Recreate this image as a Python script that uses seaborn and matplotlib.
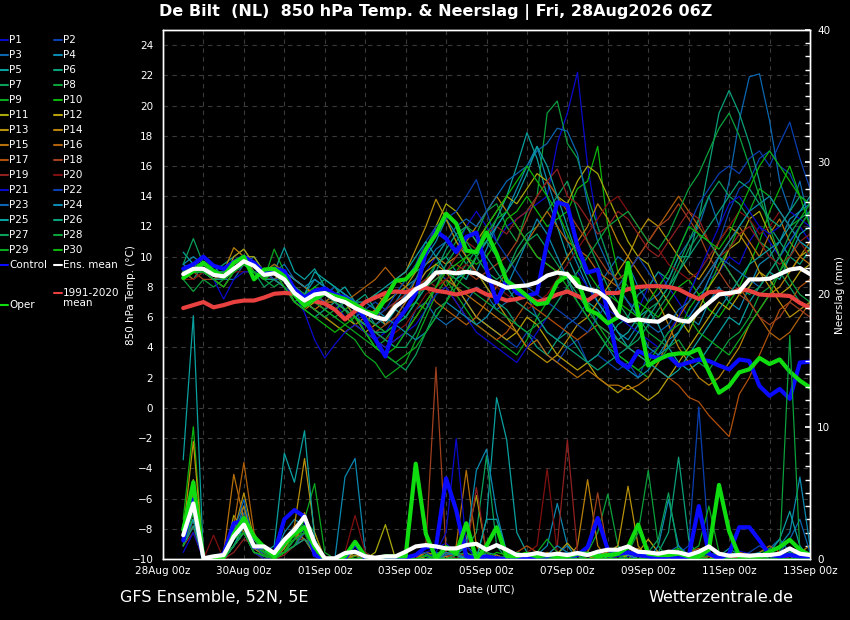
"""
GFS ensemble plume for De Bilt: 850 hPa temperature and precipitation
"""

import pandas as pd
import matplotlib
matplotlib.use("Agg")
import matplotlib.pyplot as plt
import matplotlib.dates as mdates
from matplotlib.lines import Line2D
from matplotlib.ticker import MultipleLocator
import seaborn as sns

# ---- data (6-hourly, 28Aug 12z .. 13Sep 00z) ----
start_time = "2026-08-28 12:00"
n_steps = 63

member_names = [f"P{k}" for k in range(1, 31)]

base_colors = ["#0a0acc", "#0a3fb0", "#0a66b0", "#0a88b0", "#0aa0a0",
               "#0aa07a", "#0aa05a", "#0aa03c", "#0aa81e", "#0ab40a",
               "#a8a80a", "#b8a00a", "#b8900a", "#b8800a", "#b8700a",
               "#b0600a", "#b0500a", "#a0401e", "#902020", "#801010"]
member_colors = base_colors + base_colors[:10]

member_t850 = [
    # P1
    [9, 9.5, 9, 8.5, 8, 9, 9.5, 9, 8.5, 9, 8,
     7, 7.5, 7, 6.5, 7, 6, 6.5, 5, 4.5, 5,
     6, 7, 8, 9, 10, 11, 10.5, 12, 13, 12,
     11, 12, 12.5, 13, 13.5, 14, 17.5, 19.5, 22.2, 16, 12, 10,
     8, 7, 6.5, 8, 9, 8, 7, 6, 7, 8.5,
     9, 10, 9.5, 11, 12, 11, 10, 11, 12, 11],
    # P2
    [8.5, 9, 9.5, 9, 8.5, 9.5, 10, 9.5, 9, 8.5, 8,
     7.5, 7, 7.5, 8, 7, 7.5, 7, 6.5, 7, 6.5,
     7, 6.5, 7.5, 8, 9, 8.5, 8, 7, 6, 5.5,
     5, 4.5, 4, 5, 4.5, 3.5, 3, 4, 4.5, 3, 3.5, 3,
     2.5, 3, 2, 3.5, 4, 5, 6, 7.5, 9, 10,
     11, 13, 14.5, 15, 16.5, 17, 16, 15.5, 14, 13.5],
    # P3
    [9, 8.5, 9, 9.5, 8.5, 8.5, 9.5, 10, 9, 9, 9.5,
     8.5, 8, 7.5, 7, 7.5, 6.5, 6, 5.5, 5, 4.5,
     4, 5, 6.5, 7, 6, 5.5, 6, 7, 8, 7.5,
     6.5, 7, 8, 7.5, 6, 5, 4.5, 5.5, 6, 7, 8, 9,
     10, 9.5, 8, 7, 7.5, 8.5, 10, 11, 12, 14,
     12, 15, 19, 21.9, 22.1, 19, 15, 13, 15, 12],
    # P4
    [9.5, 10, 9.5, 9, 9, 9.5, 10, 9.5, 9, 8.5, 9,
     8, 7.5, 8.5, 8, 7.5, 7, 6, 6.5, 5.5, 6,
     7, 8, 8.5, 10, 11, 12.5, 11.5, 10, 9, 10.5,
     12, 13, 14.5, 16, 17.3, 15, 13, 11, 9.5, 8, 7, 6,
     5, 4.5, 5.5, 4, 3.5, 4.5, 5, 6, 5.5, 7,
     8, 7, 6.5, 8, 9.5, 10, 11, 12.5, 13, 13.5],
    # P5
    [10.3, 9.5, 9, 8.5, 9, 9.5, 10, 9, 8.5, 9, 10.6,
     9, 8.5, 9.2, 8, 7.5, 8, 7, 6.5, 6, 5.5,
     6.5, 6, 7, 8, 9.5, 10, 9, 8.5, 10, 11,
     12.5, 14, 16, 18.2, 16.5, 14, 12, 10, 8.5, 7, 6.5, 5.5,
     4.5, 5, 6, 6.5, 5.5, 4, 3, 2.5, 3, 4,
     5, 6, 5.5, 7, 8, 9, 8.5, 10, 11.5, 12],
    # P6
    [9, 8.5, 9.5, 9, 9.5, 10, 10.5, 9.5, 9, 9.5, 9,
     8, 7.5, 7, 7.5, 8, 7.5, 7, 7.5, 6.5, 7,
     7.5, 8.5, 9, 9.5, 10, 11, 10.5, 9.5, 9, 8,
     7, 6.5, 5.5, 5, 4, 3.5, 4.5, 5, 4, 3, 3.5, 4.5,
     5.5, 6, 7.5, 8, 9, 8.5, 10, 10, 12.5, 16,
     19.5, 21, 19.5, 17.5, 15, 12, 11, 10, 9.5, 10.5],
    # P7
    [9.5, 11.2, 9.5, 9, 9, 9, 9.5, 9, 8, 8.5, 8.5,
     7.5, 7, 8, 8.5, 8, 7, 6, 5, 4, 3.5,
     3, 2.5, 3.5, 5, 6.5, 7, 8.5, 9.5, 10.5, 11,
     10, 9, 10.5, 11.5, 12, 13, 14, 15, 13, 11, 9.5, 8,
     7, 6, 5.5, 6.5, 7, 8, 9.5, 11, 12.5, 14,
     15, 14, 13.5, 12.5, 11, 10.5, 9, 8, 7, 6.5],
    # P8
    [8.5, 7.7, 8.5, 8, 8.5, 9, 9.5, 9.5, 8.5, 8, 8.5,
     7, 7.5, 7, 6.5, 6, 6.5, 5.5, 5, 4, 4.5,
     5.5, 6, 7, 8.5, 9.5, 10, 11, 12, 11.5, 13,
     13.5, 12, 11, 13, 14, 19.5, 20.3, 17.5, 16.5, 14, 12, 10,
     8, 7, 6, 5, 4.5, 4, 4.5, 3.5, 3, 2.5,
     3.5, 4.5, 5, 6, 7.5, 8, 9, 10, 11, 10.5],
    # P9
    [8.5, 9, 9, 8.5, 8, 9, 9.5, 9, 8.5, 10.5, 9,
     8, 7, 6.5, 6, 5.5, 5, 4.5, 3.5, 3, 2,
     2.5, 3, 4.5, 6, 7.5, 8.5, 7.5, 6.5, 5.5, 5,
     4.5, 4, 3.5, 4.5, 6, 7, 8.5, 9, 8, 7, 5.5, 4.5,
     3.5, 3, 2.5, 2, 3, 4, 5, 6.5, 7.5, 8,
     9.5, 10.5, 12, 13, 14.5, 14, 13, 12, 12.5, 13.5],
    # P10
    [9, 9.5, 9, 9, 8.5, 9.5, 10, 9.5, 9, 9, 8.5,
     8, 7.5, 8, 7.5, 7, 6.5, 7, 6, 5.5, 5,
     5.5, 6.5, 7, 6.5, 7.5, 8, 9, 10, 9.5, 10,
     11, 12.5, 13, 14, 13, 12, 12.5, 13, 14.5, 15, 17.3, 12,
     9, 8, 7, 6.5, 6, 7, 8, 8.5, 7.5, 6.5,
     6, 7, 8, 9.5, 11, 13, 14.5, 16, 14, 12],
    # P11
    [9, 9.5, 9.5, 9, 9, 9.5, 10, 10, 9, 9, 8.5,
     8, 7.5, 7, 7, 6.5, 6, 6.5, 7, 7.5, 7,
     7.5, 8, 9, 10.5, 12, 13.5, 13, 12, 11, 12,
     13, 14, 13.5, 14.5, 15.5, 15, 14, 13.5, 15, 16, 15.5, 14,
     12.5, 11, 10, 9.5, 8, 7, 6, 5, 6.5, 8,
     9, 10.5, 11, 12.5, 13, 11.5, 10, 9, 10, 10.5],
    # P12
    [8.5, 9, 9, 8.5, 8.5, 9, 9.5, 9, 8.5, 8.5, 8,
     7, 6.5, 7, 7, 6.5, 6, 5.5, 5, 5.5, 6,
     6.5, 7.5, 8, 9, 9.5, 9, 8, 7, 6, 5.5,
     5, 4.5, 5, 6, 5.5, 4.5, 3.5, 3, 2.5, 3, 2, 1.5,
     1, 1.5, 1, 0.5, 1, 2, 3, 4, 5, 6,
     7, 6.5, 7.5, 8, 9, 8.5, 7.5, 8, 9, 9.5],
    # P13
    [9, 9, 9.5, 9, 8.5, 10, 10.5, 9.5, 9, 8.5, 9,
     8.5, 8, 7.5, 7, 7, 6.5, 6, 5.5, 6.5, 7.5,
     8.5, 9, 10.5, 12, 13.8, 12.5, 11, 10, 9, 8,
     7, 6, 5, 4, 3.5, 3, 3.5, 4.5, 5.5, 6, 7, 8,
     9, 10, 11.5, 12.5, 12, 11, 10, 9, 8.5, 9.5,
     11, 12, 11.5, 10.5, 9, 8, 7, 6, 6.5, 7],
    # P14
    [8.5, 9, 9, 8.5, 9, 10.6, 10, 9, 8.5, 8.5, 8,
     7.5, 7, 6.5, 6, 5.5, 5, 5.5, 6, 6.5, 5.5,
     6, 7, 8.5, 9.5, 10, 9.5, 10, 11, 12, 13,
     14, 13, 12, 11, 10, 9.5, 9, 10, 11, 12, 13.5, 12.5,
     11, 10, 9, 8, 7, 5.5, 4, 3, 2, 1.5,
     2, 3, 4, 5.5, 6.5, 7.5, 8, 9, 10, 11],
    # P15
    [9, 9.5, 9, 8.5, 8.5, 9, 9.5, 9, 8.5, 9, 8.5,
     7.5, 7, 6.5, 7, 7.5, 7, 6, 5, 4.5, 4,
     4.5, 5, 6, 7, 8, 8.5, 8, 7.5, 7, 6.5,
     6, 5.5, 5, 4, 4.5, 3.5, 3, 2.5, 2, 2.5, 2, 1.5,
     1.5, 1.2, 1.5, 2, 3, 4.5, 6, 7, 8, 9,
     10, 11, 12, 11, 10, 11.5, 12.5, 11, 10, 9.5],
    # P16
    [8.5, 9, 9.5, 9, 8.5, 9, 9.5, 9.5, 9, 9.5, 9,
     8.5, 8, 7.5, 7, 6.5, 7, 7.5, 8, 8.5, 9.3,
     8.5, 8, 7.5, 8, 7, 6.5, 6, 5.5, 6, 7,
     8, 9, 10, 11, 12, 13, 12, 11, 10.5, 10, 9, 8.5,
     8, 9, 10, 11, 12, 13, 14, 13, 12, 11,
     10, 9, 8, 7, 6, 5, 4.5, 5, 6, 7],
    # P17
    [9, 8.5, 9, 8.5, 8.5, 9.5, 10, 9.5, 8.5, 9, 8.5,
     8, 7.5, 7.5, 8, 7.5, 7, 6.5, 6, 5.5, 6,
     7, 7.5, 8, 8.5, 9, 8, 7, 6, 5.5, 5,
     4.5, 5, 6, 7, 6.5, 6, 5.5, 5, 4.5, 5, 5.5, 5,
     4.5, 4, 3.5, 3, 2.5, 2, 1.5, 0.7, 0.4, -0.5,
     -1.2, -1.9, 0.9, 2, 3.5, 5, 6.5, 7, 8, 8.5],
    # P18
    [8.5, 9, 8.5, 8.5, 8, 9, 9.5, 9, 8.5, 8.5, 8.5,
     7.5, 7, 7, 7.5, 7, 6.5, 6, 5.5, 5, 5.5,
     6, 6.5, 7.5, 8, 8.5, 9, 9.5, 9, 8.5, 9,
     9.5, 10, 11, 12.5, 14, 15, 14, 13, 12, 11, 10, 9,
     8.5, 9, 10, 11, 12, 12.5, 13.5, 12.5, 11.5, 10,
     9, 8, 7.5, 7, 6, 5.5, 6, 7, 6.5, 6],
    # P19
    [9, 9.5, 9, 9, 8.5, 9.5, 10, 9.5, 9, 8.5, 8.5,
     8, 7.5, 7, 6.5, 7, 7.5, 7, 6.5, 6, 6.5,
     7, 7.5, 8, 8.5, 8, 9, 10, 11, 10.5, 11.5,
     12, 11.5, 12.5, 13, 14, 15, 15.8, 14, 13.5, 12.5, 11.5, 12,
     13, 12.5, 11.5, 10.5, 10, 11, 12, 13, 12.5, 11,
     10, 10.5, 11.5, 12, 11, 10, 9.5, 10, 11, 11.5],
    # P20
    [8.5, 8.5, 9, 8.5, 8.5, 9, 9, 9, 8.5, 9, 8,
     7, 6.5, 7.5, 7, 6.5, 6, 6.5, 6, 5, 4.5,
     5, 5.5, 6.5, 7.5, 8, 8.5, 9, 9.5, 9, 8.5,
     8, 7.5, 7, 6.5, 7, 7.5, 8.5, 9.5, 10.5, 11.5, 12.5, 13.5,
     14, 13, 12, 11, 10.5, 9.5, 9, 8.5, 9, 10,
     11, 12, 13, 12.5, 11.5, 12, 13, 12, 11, 10],
    # P21
    [9, 9.5, 9, 8.5, 7.2, 8.5, 9, 9, 8.5, 8.5, 8,
     7.5, 6.3, 4.5, 3.3, 4.2, 5, 5.5, 5, 4.5, 4,
     4.5, 5, 5.5, 6.5, 7.5, 8, 7, 6, 5, 4.5,
     4, 3.5, 3, 4, 5, 6, 7, 8, 9, 8, 7, 6.5,
     6, 5.5, 5, 4.5, 4, 5, 6, 7.5, 9, 10.5,
     12, 13.5, 14, 13, 12, 11.5, 12, 13, 12.5, 12],
    # P22
    [9, 9, 9.5, 9, 9, 9, 9.5, 9, 9, 8.5, 8.5,
     8, 7.5, 7, 7.5, 8, 7.5, 7, 6.5, 6, 6.5,
     7.5, 8.5, 9.5, 11, 12, 12.5, 13, 14, 15.1, 13,
     11, 10, 9, 8, 7.5, 7, 6.5, 6, 5.5, 5, 6, 7,
     8, 9, 10, 9, 8, 9, 10.5, 12, 13.5, 14.5,
     15.5, 16, 15.5, 16.5, 17, 16, 17.5, 18.9, 16.5, 14.5],
    # P23
    [9, 9.5, 9, 9, 8.5, 9, 9.5, 9.5, 9, 9, 8.5,
     7.5, 7, 7.5, 7, 6.5, 7, 6.5, 6, 5.5, 6,
     6.5, 7.5, 8.5, 9.5, 10.5, 11, 12, 12.5, 12, 13,
     14, 15, 15.5, 16, 17, 17.5, 18.5, 18.3, 16.8, 13.5, 11, 9.5,
     8, 7, 6, 5.5, 5, 5.5, 6.5, 7, 8, 9,
     10, 9.5, 9, 8.5, 8, 9, 10, 11, 12, 13],
    # P24
    [9.5, 9, 9, 8.5, 8.5, 9, 9.5, 9, 8.5, 9, 9,
     8.5, 8, 8.5, 8, 7.5, 7, 6.5, 7, 6.5, 6,
     5.5, 5, 4.5, 5, 6, 7, 6.5, 6, 5.5, 6,
     7, 8, 9.5, 11, 12.5, 11.5, 10, 8.5, 7, 6, 5, 4,
     3, 2.5, 2, 2.5, 3.5, 4, 5, 6, 7, 8.5,
     10, 11, 12, 13, 13.5, 14, 13, 12, 11, 10.5],
    # P25
    [9, 9, 9.5, 9, 8.5, 9.5, 10, 9.5, 9, 9, 8.5,
     8, 7.5, 9, 8.5, 8, 7.5, 7, 7, 7.5, 8,
     8.5, 9, 10, 11, 10, 9, 8.5, 9, 10, 11,
     12, 13, 14, 15.5, 17.3, 16, 14, 12, 10, 8.5, 7, 6,
     5, 4, 3.5, 3, 2.5, 2, 2.5, 3.5, 4.5, 5.5,
     6.5, 7.5, 8.5, 9.5, 10, 10.5, 11, 12, 13, 14],
    # P26
    [8.5, 9, 9, 8.5, 8.5, 9, 9.5, 9, 8.5, 8.5, 8,
     7, 6.5, 6, 6.5, 7, 6.5, 6, 5.5, 5, 5,
     5.5, 6, 7, 8, 9, 10.5, 11.5, 12, 11, 10,
     9, 8, 7, 6.5, 6, 5, 4.5, 4, 3.5, 3, 2.5, 3,
     3.5, 4, 5, 6, 7, 8, 9, 10, 11, 12,
     13, 14, 15, 14.5, 13.5, 12.5, 12, 13, 14, 13.5],
    # P27
    [9, 9.5, 9, 9, 9, 9.5, 10, 9.5, 9, 9, 8.5,
     8, 7.5, 7, 7.5, 7, 6.5, 6, 5.5, 5, 4.5,
     4, 4, 5, 6.5, 8, 9.5, 10.5, 11, 10, 9,
     8.5, 9, 10, 11, 11.5, 10.5, 9.5, 8.5, 7.5, 6.5, 5.5, 5,
     4.5, 4, 4.5, 5.5, 6.5, 7.5, 9, 10.5, 11.5, 11,
     10, 9, 8, 7.5, 8, 9, 10, 11.5, 12.5, 13],
    # P28
    [8.5, 9, 9.5, 9, 8.5, 9, 9.5, 9, 8.5, 9, 8.5,
     7.5, 7, 6.5, 6, 6.5, 7, 6.5, 6, 5.5, 5,
     5.5, 6.5, 7.5, 8, 8.5, 9, 8.5, 8, 7.5, 7,
     6.5, 6, 5.5, 5, 5.5, 6, 7, 8, 9, 10, 11, 12,
     12.5, 13, 12, 11, 10.5, 11.5, 13, 14.5, 15.5, 17,
     18.5, 19.5, 18, 16, 14, 12, 10, 8.5, 7.5, 7],
    # P29
    [9, 9.5, 9.5, 9, 8.5, 9, 10, 9.5, 8.5, 9, 8.5,
     8, 7.5, 7, 6.5, 6, 5.5, 5, 4.5, 4, 3.5,
     3, 3.5, 4, 5, 6, 7, 8, 9, 10, 11.5,
     12.5, 13, 12, 11, 10, 9.5, 9, 8, 7, 6, 5, 4,
     3.5, 3, 2.5, 3, 4, 5, 5.5, 6, 5, 4.5,
     4, 3.5, 4.5, 5.5, 6.5, 7.5, 9, 10.5, 12, 13],
    # P30
    [8.5, 9, 9, 8.5, 8, 9, 9.5, 9, 8.5, 9, 8,
     7, 6.5, 6, 5.5, 5, 5.5, 6, 5, 4, 3.5,
     4, 5, 6, 7, 8, 9, 9.5, 10, 10.5, 12,
     13, 14, 15, 16, 15, 14, 13, 11.5, 10, 9, 8, 7.5,
     7, 6.5, 6, 7, 8, 9, 10.5, 12, 11.5, 11,
     10.5, 11.5, 13, 14.5, 16, 17, 16, 15, 14, 13.5],
]

member_precip = [
    # P1
    [1.5, 4, 0, 0, 0.2, 1.5, 2.5, 0.8, 0.3, 0,
     1, 2, 3, 0.5, 0, 0, 0, 0.3, 0, 0,
     0, 0, 0, 0.2, 0.5, 0.8, 1.2, 0.4, 0, 0,
     0, 0, 0, 0, 0.5, 0.2, 0, 0, 0.3, 0.6,
     0, 0, 0, 0.4, 0.2, 0, 0, 0, 0, 0.5,
     0.3, 0, 0, 0, 0.2, 0.6, 0.4, 0, 0, 0,
     0.3, 0, 0],
    # P2
    [2, 3, 0, 0, 0, 1, 2, 1, 0.5, 0,
     0.5, 1.5, 2, 0.8, 0, 0, 0, 0, 0, 0,
     0, 0, 0.3, 0, 0, 0.5, 0.3, 0, 0.2, 0,
     0, 0.3, 0, 0, 0, 0, 0.2, 0, 0, 0,
     0, 0.5, 0.2, 0, 0, 0, 0.3, 0, 0, 0.4,
     1, 11.5, 1, 0, 0, 0, 0, 0.2, 0.5, 0,
     0, 0, 0.2],
    # P3
    [1, 2.5, 0, 0, 0.3, 2, 3.5, 1, 0.3, 0,
     1.5, 2.5, 2, 0.5, 0, 0, 0.2, 0.5, 0, 0,
     0, 0, 0, 0, 0.3, 0.2, 0, 0.6, 1, 0.3,
     0, 0, 0.2, 0.5, 0, 0, 0, 0.4, 1, 0.5,
     0, 0, 0, 0, 0.3, 0.8, 0.2, 0, 0, 0,
     0, 0.2, 0.5, 0, 0, 0, 0, 0, 0.8, 1.5,
     0.5, 0, 0],
    # P4
    [2.5, 5, 0, 0, 0, 1.5, 4, 1, 0.5, 0.2,
     2, 3, 2.5, 1, 0, 0, 6.2, 7.6, 0.5, 0,
     0, 0, 0, 0, 0.3, 0.5, 0.2, 0, 0, 0.4,
     0.2, 0, 0, 0, 0, 0.3, 1, 4.2, 1, 0,
     0, 0, 0, 0.3, 0.5, 0, 0, 0, 0.2, 0,
     0, 0, 0, 0.3, 0, 0, 0, 0, 0.4, 1,
     2, 6.2, 1],
    # P5
    [7.5, 18.4, 0, 0, 0, 1, 2, 0.5, 0.2, 0,
     0.5, 1.5, 2, 0.5, 0, 0, 0, 0, 0, 0,
     0, 0, 0, 0, 0, 0.2, 0.5, 0.3, 0, 0,
     3, 12.2, 9, 2, 0.5, 0, 0, 0, 0, 0.3,
     0, 0, 0, 0, 0, 0, 0.5, 0.3, 0, 0,
     0, 0, 0, 0.2, 0.8, 0.3, 0, 0, 0, 0,
     0, 0.2, 0.5],
    # P6
    [1, 3, 0, 0, 0.2, 1, 2.5, 1.5, 0.8, 0.2,
     0.5, 1, 1.5, 1, 0, 0, 0, 0.3, 0.2, 0,
     0, 0, 0, 0, 0, 0.3, 0.5, 0, 0, 0,
     0.5, 0.3, 0, 0, 0, 0, 0, 0, 0.5, 0.3,
     0, 0, 0.5, 1, 0.3, 0, 0, 0.5, 2, 7.7,
     1.5, 0, 0, 0, 0.3, 0, 0, 0, 0, 0.2,
     0.5, 0.3, 0],
    # P7
    [2, 5, 0, 0, 0, 2, 3, 1, 0.5, 0,
     1, 2, 2.5, 1.5, 0, 0, 0.3, 0, 0, 0,
     0, 0.2, 0, 0, 0, 0, 0.3, 0.5, 0.8, 2,
     7.8, 1, 0, 0, 0.3, 0, 0, 0, 0, 0,
     0.2, 0.5, 0, 0, 0, 0, 0, 0, 0.3, 0,
     0, 0, 0.5, 0, 0, 0.3, 0.2, 0, 0, 0,
     0, 0.4, 0],
    # P8
    [1.5, 3.5, 0, 0, 0.3, 1.5, 2, 0.5, 0.2, 0,
     0.5, 1.5, 3, 2, 0, 0, 0, 0, 0, 0,
     0, 0, 0, 0, 0.2, 0.4, 0, 0, 0, 0.3,
     0, 0, 0, 0.2, 0, 0, 0.3, 0.5, 0, 0,
     0.5, 2, 4.9, 1, 0, 0, 0, 0.2, 0, 0,
     0, 0, 0, 0.3, 0, 0, 0, 0.5, 0.8, 0,
     0, 0, 0.3],
    # P9
    [2, 6, 0, 0, 0, 1, 2, 1.2, 0.6, 0,
     0.5, 1.5, 3, 5.7, 0.5, 0, 0, 0, 0, 0,
     0, 0, 0, 0.3, 0, 0, 0, 0, 0.2, 0.5,
     0.3, 0, 0, 0, 0, 0.4, 0, 0, 0, 0,
     0, 0, 0, 0.3, 0.5, 0, 0, 0, 0, 0,
     0.5, 1, 4, 0.5, 0, 0, 0, 0.3, 0, 0,
     0, 0.2, 0],
    # P10
    [3, 10, 0, 0, 0, 1.5, 3, 1, 0.3, 0,
     1, 1.5, 2, 0.5, 0, 0, 0, 0.2, 0.5, 0,
     0, 0, 0, 0, 0, 0.3, 0, 0, 0, 0,
     0, 0.5, 0.3, 0, 0, 0, 0, 0.2, 0.5, 0,
     0, 0, 0, 0, 0, 0, 0.3, 0.2, 0, 0,
     0, 0, 0, 0, 0.5, 0, 0, 0, 0.2, 0.3,
     0, 0, 0.2],
    # P11
    [1, 4, 0, 0, 0, 3.3, 2, 0.5, 0, 0,
     0.5, 1, 2, 0.5, 0, 0, 0, 0, 0, 0.5,
     2.6, 0, 0, 0, 0, 0, 0.3, 0.5, 1.5, 4.8,
     0.5, 0, 0, 0, 0, 0.3, 0, 0, 0, 0.5,
     0.5, 3.1, 0.5, 0, 0.3, 0, 0, 0, 0, 0,
     0, 0.3, 0, 0, 0, 0, 0, 0.2, 0, 0,
     0.3, 0.5, 0],
    # P12
    [1.5, 3, 0, 0.2, 0, 1, 2, 0.8, 0.3, 0,
     0.8, 2, 1.5, 0.3, 0, 0, 0, 0.5, 0, 0,
     0, 0, 0, 0.2, 0.5, 0, 0, 0, 0.3, 0,
     0, 0, 0, 0.3, 0.5, 0, 0, 0.4, 1.2, 0.3,
     0, 0, 0, 0, 0, 0.5, 1.5, 0.5, 0, 0,
     0, 0, 0, 0, 0.3, 0, 0, 0, 0, 0,
     0.4, 0, 0],
    # P13
    [2, 8.9, 0, 0, 0, 2, 5, 1.5, 0.5, 0.3,
     1, 2.5, 7.6, 2, 0, 0, 0, 0, 0, 0,
     0, 0, 0, 0.3, 0, 0, 0.2, 0, 0.5, 0,
     0, 0, 0, 0, 0.3, 0, 0, 0, 0.5, 0,
     0, 0.3, 0.5, 1, 5.5, 1, 0, 0, 0, 0,
     0, 0, 0.2, 0, 0, 0, 0, 0, 0, 0.5,
     0.8, 0, 0],
    # P14
    [2.5, 6, 0, 0, 0.3, 2.5, 4, 1, 0.5, 0,
     1, 2, 3.5, 1, 0, 0, 0, 0.3, 0, 0,
     0, 0, 0, 0, 0.5, 0.3, 0, 0, 0, 0.5,
     0.3, 0, 0, 0, 0, 0, 0.5, 0.3, 0, 1,
     6, 1, 0, 0, 0, 0, 0, 0.4, 0.2, 0,
     0, 0, 0, 0.5, 0.2, 0, 0, 0, 0, 0,
     0, 0.5, 1],
    # P15
    [1.5, 4.5, 0, 0, 0.5, 6.4, 3, 1, 0.3, 0,
     0.5, 1.5, 2.5, 0.5, 0, 0, 0, 0, 0, 0,
     0, 0, 0, 0.2, 0, 0, 0, 1, 6.7, 1,
     0, 0, 0, 0, 0, 0.3, 0, 0, 0.2, 0.5,
     0.3, 0, 0, 0, 0.5, 0.8, 0, 0, 0, 0,
     0, 0, 0, 0, 0, 0.5, 0.3, 0, 0, 0,
     0, 0, 0.3],
    # P16
    [2, 5, 0, 0, 0, 2.5, 7.3, 2, 0.5, 0,
     1, 2.5, 3, 0.5, 0, 0, 0.2, 0, 0, 0,
     0, 0, 0, 0, 0, 0, 0.5, 0.3, 0, 0,
     0, 0.3, 0, 0, 0, 0, 0, 0, 0, 0.3,
     0.5, 0, 0, 0, 0, 0, 0, 0, 0.3, 0.5,
     0, 0, 0, 0, 0, 0.2, 0, 0.5, 1, 0.5,
     0, 0, 0],
    # P17
    [1, 3, 0, 0, 0, 1.5, 2.5, 1.5, 1, 0.5,
     0.5, 1, 2, 1, 0, 0, 0, 0, 0.3, 0,
     0, 0, 0, 0, 0, 0, 0, 0.5, 0.2, 0,
     0, 0, 0, 0.5, 1, 0.5, 0, 0, 0, 0,
     0, 0, 0, 0, 0, 0.3, 0, 0, 0, 0.3,
     0.5, 0.8, 0.3, 0, 0, 0, 0, 0, 0, 0,
     0.2, 0.5, 0],
    # P18
    [1.5, 2.5, 0, 0, 0.2, 1, 2, 1, 0.5, 0,
     0.5, 1.5, 1.5, 0.5, 0, 0, 0, 0, 0, 0,
     0, 0, 0, 0, 1, 14.5, 0.5, 0, 0, 0,
     0.3, 0, 0, 0, 0, 0, 0, 0.3, 0, 0,
     0.5, 5, 0.5, 0, 0, 0, 0, 0, 0, 0,
     0, 0, 0.2, 0.5, 0.3, 0, 0, 0, 0, 0,
     0, 0, 0.2],
    # P19
    [1, 2, 0, 0, 0, 0.5, 1.5, 1, 0.3, 0,
     0.3, 1, 2, 0.5, 0, 0, 0, 0, 0, 0,
     0, 0, 0, 0, 0, 0, 0.3, 0, 0.5, 5.4,
     0.5, 0, 0, 0, 0, 0, 0.3, 1, 9, 0.5,
     0, 0, 0, 0, 0, 0, 0.3, 0, 0, 0,
     0, 0, 0, 0, 0.5, 0.3, 0, 0, 0, 0,
     0, 0, 0],
    # P20
    [1, 2.5, 0, 1.8, 0, 1, 2, 1, 0.3, 0,
     0.5, 1, 1.5, 0.5, 0, 0, 0.5, 3.3, 0.5, 0,
     0, 0, 0, 0, 0, 0, 0, 0, 0, 0.5,
     0, 0, 0, 0, 0.5, 1, 6.8, 0.5, 0, 0,
     0, 0, 0.3, 0, 0, 0, 0, 0, 0, 0,
     0, 0, 0, 0, 0, 0, 0, 0, 0.5, 0.3,
     0, 0, 0],
    # P21
    [0.5, 2, 0, 0, 0, 1, 2, 0.5, 0, 0,
     0.5, 1.5, 2, 0.5, 0, 0, 0, 0, 0, 0,
     0, 0, 0, 0, 0, 0.5, 2, 9.1, 1, 0,
     0, 0, 0, 0, 0, 0, 0, 0, 0.3, 0,
     0, 0, 0, 0.2, 0, 0, 0, 0, 0, 0,
     0, 0.5, 0.3, 0, 0, 0, 0, 0, 0, 0.2,
     0.5, 0, 0],
    # P22
    [1.5, 3.5, 0, 0, 0, 1.5, 2.5, 1, 0.5, 0,
     1, 2, 2.5, 1, 0, 0, 0, 0, 0, 0,
     0, 0, 0, 0.3, 0.5, 0, 0, 0, 0.3, 0,
     0, 0, 0, 0, 0, 0, 0, 0.3, 0.5, 0,
     0, 0, 0, 0, 0, 0.3, 0.5, 0, 0, 0,
     0, 0, 0, 0, 0, 0, 0.5, 1, 0.5, 0,
     0, 0.3, 0],
    # P23
    [1, 3, 0, 0, 0, 2, 4.5, 1, 0.3, 0,
     0.5, 1, 2, 1, 0, 0, 0, 0, 0, 0,
     0, 0, 0.2, 0, 0, 0, 0.3, 0.5, 0, 0,
     0, 0, 0, 0, 0, 0, 0, 0, 0, 0.3,
     0.5, 0, 0, 0, 0, 0, 0, 0, 0.5, 1,
     0.3, 0, 0, 0, 0, 0, 0, 0, 0, 0.5,
     1.5, 3, 0.5],
    # P24
    [2, 4, 0, 0, 0, 1.5, 3, 1, 0.5, 0,
     1, 2, 2.5, 0.5, 0, 0, 0, 0, 0, 0,
     0, 0, 0, 0, 0, 0, 0.5, 0.3, 1, 6.7,
     8.3, 3.5, 0.5, 0, 0, 0, 0.3, 1, 0.5, 0,
     0, 0, 0, 0.5, 0.3, 0, 0, 1, 4.5, 1,
     0, 0, 0, 0, 0, 0, 0.3, 0.5, 0, 0,
     0, 0, 0],
    # P25
    [1.5, 3, 0, 0, 0, 1, 2.5, 1, 0.5, 1,
     8, 5.8, 9.7, 1.5, 0, 0, 0, 0, 0, 0,
     0, 0, 0, 0, 0, 0, 0, 0.3, 0, 0,
     3, 3, 0.5, 0, 0, 0, 0, 0, 0, 0,
     0.3, 0.5, 0, 0, 0, 0, 0, 0, 0.5, 0,
     0, 0, 0, 0, 0, 0, 0, 0, 0.5, 1.5,
     3.6, 1, 0],
    # P26
    [1, 2.5, 0, 0, 0, 1, 2, 1.5, 0.5, 0.3,
     0.5, 1, 1.5, 0.5, 0, 0, 0, 0, 0, 0,
     0, 0, 0, 0, 0, 0, 0, 0, 0, 0.5,
     0.3, 0, 0, 0.5, 0.3, 0, 0, 0, 0, 0,
     0, 0, 0, 0, 0, 0, 0, 0.3, 0.5, 0,
     0, 0, 0, 0, 0.5, 0.3, 0, 0, 0, 0,
     0.5, 0.8, 0.3],
    # P27
    [2, 5.5, 0, 0, 0.3, 1.5, 2.5, 1, 0.5, 0,
     0.5, 1.5, 2, 1, 0, 0, 0, 0, 0.3, 0,
     0, 0, 0, 0, 0, 0.3, 0, 0, 0, 0,
     0, 0, 0, 0, 0, 0, 0, 0, 0.3, 0,
     0, 0, 0, 0, 0, 0, 0.5, 1.5, 5, 0.5,
     0, 0, 0, 0, 0, 0, 0.3, 0, 0, 0,
     0, 0, 0],
    # P28
    [1.5, 4.5, 0, 0, 0, 1, 2, 0.5, 0.3, 0,
     0.5, 1, 2.5, 1, 0, 0, 0, 0, 0, 0,
     0, 0, 0, 0, 0, 0, 0, 0.3, 0.5, 0,
     0, 0, 0, 0, 0, 0, 0, 0, 0, 0,
     0, 0, 0, 0, 0.5, 2, 6.7, 1, 0, 0,
     0, 0, 0, 0, 0, 0, 0, 0, 0, 0.5,
     16.9, 0.5, 0],
    # P29
    [2.5, 4, 0, 0, 0, 1.5, 2, 0.5, 0.3, 0,
     0.5, 1.5, 2, 0.5, 0, 0, 0, 0, 0, 0,
     0, 0, 0, 0, 0, 0, 0, 0, 0, 0.3,
     0.5, 0, 0, 0, 0, 0.5, 1.5, 0.5, 0, 0,
     0, 0, 0, 0.3, 0, 0, 0, 0, 0, 0,
     0, 0, 0.3, 0.5, 0, 0, 0, 0, 0, 0,
     0, 0, 0.3],
    # P30
    [1, 3.5, 0, 0, 0.2, 2, 3, 1, 0.5, 0,
     0.5, 2, 3, 1, 0, 0, 0, 0, 0, 0,
     0, 0, 0, 0, 0.3, 0, 0, 0, 0, 0,
     0, 0, 0.3, 0.5, 0, 0, 0, 0, 0, 0.3,
     0, 0, 0, 0, 0, 0, 0, 0.3, 0.5, 0.8,
     0.3, 0, 0, 0, 0, 0, 0, 0, 0.2, 0,
     0, 0, 0],
]

control_t850 = [9.2, 9.5, 10.0, 9.4, 9.2, 9.65, 10.0, 9.6, 8.95, 9.2,
                9.05, 7.85, 7.3, 7.75, 7.9, 7.5, 7.3, 6.85, 5.85, 4.55,
                3.4, 5.6, 6.5, 7.6, 10.3, 11.7, 11.2, 10.3, 11.3, 11.6,
                9.2, 7.0, 8.5, 7.6, 7.4, 7.6, 10.95, 13.6, 13.4, 10.7,
                8.95, 9.15, 6.3, 3.1, 2.65, 3.75, 3.45, 3.3, 3.45, 2.8,
                3.0, 3.2, 3.1, 2.8, 2.55, 3.2, 3.1, 1.45, 0.8, 1.25,
                0.6, 3.0, 3.05]
oper_t850 = [8.6, 9.05, 9.6, 9.05, 8.7, 9.6, 10.0, 8.5, 9.15, 9.2,
             8.7, 7.5, 6.75, 7.2, 7.6, 7.4, 7.2, 6.85, 6.4, 6.2,
             7.2, 8.4, 8.5, 9.2, 10.5, 11.5, 12.85, 12.2, 10.4, 10.3,
             11.6, 10.2, 8.4, 7.95, 7.4, 6.85, 6.95, 8.3, 8.75, 8.5,
             6.5, 6.2, 5.6, 6.0, 9.6, 6.2, 2.8, 3.2, 3.5, 3.6,
             3.6, 3.9, 2.4, 1.0, 1.45, 2.35, 2.55, 3.3, 2.9, 3.2,
             2.4, 1.8, 1.35]
ens_mean_t850 = [8.85, 9.2, 9.2, 8.8, 8.7, 9.2, 9.7, 9.4, 8.8, 8.9,
                 8.5, 7.6, 7.1, 7.5, 7.6, 7.2, 7.0, 6.6, 6.3, 6.0,
                 5.85, 6.7, 7.2, 7.85, 8.2, 8.95, 9.0, 8.9, 9.0, 8.9,
                 8.5, 8.25, 7.95, 8.05, 8.1, 8.3, 8.75, 8.95, 8.85, 8.05,
                 7.85, 7.7, 7.2, 6.1, 5.75, 5.85, 5.75, 5.7, 6.1, 5.8,
                 5.7, 6.4, 6.95, 7.5, 7.6, 7.7, 8.5, 8.5, 8.55, 8.85,
                 9.15, 9.25, 8.85]
clim_t850 = [6.6, 6.8, 7.0, 6.65, 6.8, 7.0, 7.1, 7.1, 7.3, 7.55,
             7.6, 7.55, 7.3, 7.05, 6.9, 6.5, 5.85, 6.4, 7.0, 7.3,
             7.6, 7.7, 7.65, 7.85, 7.95, 7.75, 7.65, 7.5, 7.65, 7.85,
             7.5, 7.35, 7.1, 7.2, 7.4, 7.0, 7.2, 7.5, 7.7, 7.4,
             7.1, 7.55, 7.6, 7.6, 7.85, 8.0, 8.05, 8.05, 8.0, 7.85,
             7.5, 7.2, 7.65, 7.7, 7.5, 7.85, 7.75, 7.5, 7.45, 7.45,
             7.4, 6.95, 6.6]

control_precip = [1.4, 4.5, 0, 0, 0.4, 2.7, 2.9, 0.9, 0.9, 0.4,
                  3.0, 3.7, 3.2, 0.3, 0, 0, 0.05, 1.2, 0.05, 0,
                  0, 0, 0.1, 0.3, 0.9, 0.9, 6.1, 3.7, 0.2, 0.05,
                  0.2, 0.05, 0, 0, 0.05, 0.2, 0.2, 0.3, 0.2, 0.3,
                  0.9, 3.1, 0.7, 0.4, 0.5, 0.3, 0.2, 0, 0.2, 0.05,
                  0.2, 4.0, 0.4, 0.05, 0.4, 2.4, 2.4, 1.4, 0.3, 0.2,
                  0.3, 0.2, 0.2]
oper_precip = [2.2, 5.8, 0, 0, 0.15, 1.9, 3.1, 1.7, 0.9, 0.2,
               1.2, 1.9, 2.4, 0.9, 0, 0, 0.2, 1.3, 0.2, 0.05,
               0.2, 0.2, 0.2, 7.2, 1.9, 0.05, 0.9, 0.4, 2.7, 0,
               1.0, 2.4, 0.2, 0.2, 0.4, 0.2, 0.3, 0.2, 0.2, 0.4,
               0.4, 0.2, 0.3, 0.4, 0.9, 2.6, 0.4, 0.3, 0.3, 0.4,
               0.2, 0.2, 0.7, 5.6, 2.1, 0.2, 0.2, 0.2, 0.55, 0.9,
               1.45, 0.7, 0.3]
ens_mean_precip = [1.8, 4.2, 0.05, 0.2, 0.3, 1.7, 2.6, 0.95, 0.95, 0.45,
                   1.45, 2.2, 3.2, 1.2, 0.05, 0.05, 0.45, 0.55, 0.2, 0.1,
                   0.2, 0.2, 0.55, 0.95, 1.05, 0.95, 0.8, 0.8, 1.05, 1.15,
                   0.7, 1.05, 0.7, 0.3, 0.3, 0.45, 0.3, 0.4, 0.3, 0.45,
                   0.3, 0.55, 0.7, 0.7, 0.95, 0.55, 0.5, 0.4, 0.55, 0.5,
                   0.3, 0.55, 0.95, 0.4, 0.25, 0.3, 0.25, 0.3, 0.3, 0.4,
                   0.8, 0.4, 0.3]

title = "De Bilt  (NL)  850 hPa Temp. & Neerslag | Fri, 28Aug2026 06Z"


def series_frame(names, values, times):
    rows = []
    for name, vals in zip(names, values):
        n = min(len(vals), len(times))
        for t, v in zip(times[:n], vals[:n]):
            rows.append({"member": name, "time": t, "value": v})
    return pd.DataFrame(rows)


def main():
    sns.set_theme(style="dark", rc={
        "figure.facecolor": "black", "axes.facecolor": "black",
        "axes.edgecolor": "white", "text.color": "white",
        "axes.labelcolor": "white", "xtick.color": "white",
        "ytick.color": "white"})
    plt.rcParams["font.family"] = ["DejaVu Sans"]

    times = pd.date_range(start_time, periods=n_steps, freq="6h")
    palette = dict(zip(member_names, member_colors))

    df_t = series_frame(member_names, member_t850, times)
    df_p = series_frame(member_names, member_precip, times)

    W, H = 850, 620
    fig = plt.figure(figsize=(W / 100, H / 100), dpi=100)
    ax = fig.add_axes([163 / W, 1 - 559 / H, 647 / W, 529 / H])
    ax2 = ax.twinx()

    # temperature plume
    sns.lineplot(data=df_t, x="time", y="value", hue="member",
                 palette=palette, estimator=None, legend=False,
                 linewidth=0.9, ax=ax)
    main_lines = [
        (clim_t850, "#e8413f"),
        (control_t850, "#0a0aff"),
        (oper_t850, "#10dd10"),
        (ens_mean_t850, "white"),
    ]
    for vals, col in main_lines:
        sns.lineplot(x=times[:len(vals)], y=vals, color=col, linewidth=3,
                     ax=ax)

    # precipitation plume on the right axis
    sns.lineplot(data=df_p, x="time", y="value", hue="member",
                 palette=palette, estimator=None, legend=False,
                 linewidth=0.9, ax=ax2)
    for vals, col in [(control_precip, "#0a0aff"), (oper_precip, "#10dd10"),
                      (ens_mean_precip, "white")]:
        sns.lineplot(x=times[:len(vals)], y=vals, color=col, linewidth=3,
                     ax=ax2)

    # axes setup
    ax.set_xlim(pd.Timestamp("2026-08-28 00:00"), pd.Timestamp("2026-09-13 00:00"))
    ax.set_ylim(-10, 25)
    ax.set_yticks(range(-10, 25, 2))
    ax.set_xticks(pd.date_range("2026-08-28", "2026-09-13", freq="2D"))
    ax.set_xticks(pd.date_range("2026-08-28", "2026-09-13", freq="1D"), minor=True)
    ax.xaxis.set_major_formatter(mdates.DateFormatter("%d%b %Hz"))
    ax.grid(True, which="both", axis="x", color="#3a3a3a",
            linestyle=(0, (4, 4)), linewidth=0.8)
    ax.grid(True, which="major", axis="y", color="#3a3a3a",
            linestyle=(0, (4, 4)), linewidth=0.8)
    ax.tick_params(axis="both", which="both", length=0, labelsize=7.5)
    ax.tick_params(axis="y", pad=7)
    ax.tick_params(axis="x", pad=5)
    ax.set_xlabel("")
    ax.set_ylabel("")

    ax2.set_ylim(0, 40)
    ax2.set_yticks([0, 10, 20, 30, 40])
    ax2.yaxis.set_minor_locator(MultipleLocator(1))
    ax2.tick_params(axis="y", which="both", direction="in", length=3.5,
                    color="white", labelsize=7.5, pad=5)
    ax2.grid(False)
    ax2.set_ylabel("")
    for a in (ax, ax2):
        for sp in a.spines.values():
            sp.set_color("white")
            sp.set_linewidth(1)

    # texts
    fig.text(436 / W, 1 - 12 / H, title, ha="center", va="center",
             fontsize=11.5, fontweight="bold", color="white")
    fig.text(486 / W, 1 - 589 / H, "Date (UTC)", ha="center", va="center",
             fontsize=7.5)
    fig.text(131 / W, 1 - 295 / H, "850 hPa Temp. (°C)", ha="center",
             va="center", rotation=90, fontsize=7.5)
    fig.text(840 / W, 1 - 295 / H, "Neerslag (mm)", ha="center",
             va="center", rotation=90, fontsize=7.5)
    fig.text(120 / W, 1 - 598 / H, "GFS Ensemble, 52N, 5E", ha="left",
             va="center", fontsize=11.5)
    fig.text(793 / W, 1 - 598 / H, "Wetterzentrale.de", ha="right",
             va="center", fontsize=11.5)

    # hand-placed legend on the left
    def legend_item(x, y, label, color):
        fig.add_artist(Line2D([x / W, (x + 8) / W], [1 - y / H, 1 - y / H],
                              color=color, linewidth=1.5,
                              transform=fig.transFigure))
        fig.text((x + 9) / W, 1 - y / H, label, ha="left", va="center",
                 fontsize=7.5)

    for k, name in enumerate(member_names):
        row, col = divmod(k, 2)
        legend_item(0 if col == 0 else 54, 40 + 15 * row, name, member_colors[k])
    legend_item(0, 265, "Control", "#0a0aff")
    legend_item(54, 265, "Ens. mean", "white")
    legend_item(54, 293, "1991-2020", "#e8413f")
    fig.text(63 / W, 1 - 303 / H, "mean", ha="left", va="center", fontsize=7.5)
    legend_item(0, 305, "Oper", "#10dd10")

    fig.savefig("out.png", dpi=100, facecolor="black")


if __name__ == "__main__":
    main()
